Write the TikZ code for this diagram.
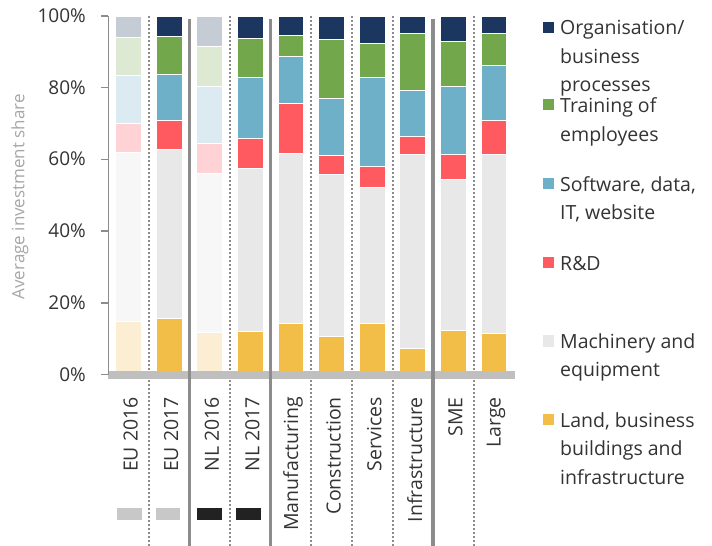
\documentclass[tikz,border=0pt]{standalone}
\usepackage{fontspec}
\setmainfont{Open Sans}
\definecolor{orgN}{HTML}{1B365F}
\definecolor{trN}{HTML}{72A84B}
\definecolor{swN}{HTML}{6EB0C8}
\definecolor{rdN}{HTML}{FF5A5F}
\definecolor{machN}{HTML}{E8E8E8}
\definecolor{landN}{HTML}{F2BE48}
\definecolor{orgF}{HTML}{C5CCD6}
\definecolor{trF}{HTML}{DDE9D3}
\definecolor{swF}{HTML}{DCEAF2}
\definecolor{rdF}{HTML}{FFD3D5}
\definecolor{machF}{HTML}{F7F7F7}
\definecolor{landF}{HTML}{FCEED3}
\definecolor{txt}{HTML}{333333}
\definecolor{axisgray}{HTML}{8C8C8C}
\definecolor{basegray}{HTML}{BFBFBF}
\definecolor{ylabgray}{HTML}{A6A6A6}
\definecolor{sqgray}{HTML}{C8C8C8}
\definecolor{sqblack}{HTML}{222222}
\newcommand\stackbar[7]{%
  \pgfmathsetmacro\yA{374.5-3.585*#2}%
  \pgfmathsetmacro\yB{374.5-3.585*#3}%
  \pgfmathsetmacro\yC{374.5-3.585*#4}%
  \pgfmathsetmacro\yD{374.5-3.585*#5}%
  \pgfmathsetmacro\yE{374.5-3.585*#6}%
  \path[seg, fill=land#7] (#1,374.5) rectangle (#1+25.8,\yA);
  \path[seg, fill=mach#7] (#1,\yA) rectangle (#1+25.8,\yB);
  \path[seg, fill=rd#7] (#1,\yB) rectangle (#1+25.8,\yC);
  \path[seg, fill=sw#7] (#1,\yC) rectangle (#1+25.8,\yD);
  \path[seg, fill=tr#7] (#1,\yD) rectangle (#1+25.8,\yE);
  \path[seg, fill=org#7] (#1,\yE) rectangle (#1+25.8,16);
}
\tikzset{
  seg/.style={draw=white, line width=1pt},
  xlab/.style={rotate=90, anchor=east, inner sep=0pt, text=txt, font=\fontsize{19.5}{22}\selectfont},
  ticklab/.style={anchor=base east, inner sep=0pt, text=txt, font=\fontsize{19}{22}\selectfont},
  leglab/.style={anchor=base west, inner sep=0pt, text=txt, font=\fontsize{19.5}{22}\selectfont},
  solidsep/.style={draw=axisgray, line width=3.5pt},
  dotsep/.style={draw=axisgray, line width=2pt, dash pattern=on 2pt off 2pt},
}
\begin{document}
\begin{tikzpicture}[x=1pt, y=-1pt]
\useasboundingbox (0,0) rectangle (712,546);
% bars
\stackbar{115.7}{14.7}{62.0}{70.0}{83.4}{94.1}{F}
\stackbar{156.3}{15.6}{62.8}{70.8}{83.8}{94.3}{N}
\stackbar{196.9}{11.8}{56.2}{64.3}{80.3}{91.5}{F}
\stackbar{237.5}{12.0}{57.6}{65.7}{82.9}{93.7}{N}
\stackbar{278.1}{14.3}{61.7}{75.5}{88.7}{94.6}{N}
\stackbar{318.7}{10.5}{55.8}{61.1}{77.0}{93.5}{N}
\stackbar{359.3}{14.3}{52.1}{58.1}{82.9}{92.2}{N}
\stackbar{399.9}{7.3}{61.3}{66.5}{79.3}{95.2}{N}
\stackbar{440.5}{12.2}{54.5}{61.4}{80.3}{92.8}{N}
\stackbar{481.1}{11.5}{61.5}{70.8}{86.2}{95.2}{N}
% dotted separators
\foreach \sx in {148.9,230.1,311.3,351.9,392.5,473.7}
  \draw[dotsep] (\sx,16) -- (\sx,546);
% base bar
\fill[basegray] (108,371) rectangle (515,379);
% solid separators
\foreach \sx in {189.5,270.7,433.1}
  \draw[solidsep] (\sx,18.7) -- (\sx,546);
% y axis
\draw[axisgray, line width=1.5pt] (108.3,16) -- (108.3,375);
\foreach \p/\lab in {0/0\%,20/20\%,40/40\%,60/60\%,80/80\%,100/100\%}{
  \draw[axisgray, line width=1.5pt] (100.7,374.5-3.585*\p) -- (108.3,374.5-3.585*\p);
  \node[ticklab] (tick\p) at (86,374.5-3.585*\p+6.5) {\lab};
}
\node[rotate=90, text=ylabgray, font=\fontsize{17}{20}\selectfont] (ylab) at (20,196.7) {Average investment share};
% x labels
\node[xlab] (xl1) at (130.6,397) {EU 2016};
\node[xlab] (xl2) at (171.2,397) {EU 2017};
\node[xlab] (xl3) at (211.8,397) {NL 2016};
\node[xlab] (xl4) at (252.4,397) {NL 2017};
\node[xlab] (xl5) at (293.0,397) {Manufacturing};
\node[xlab] (xl6) at (333.6,397) {Construction};
\node[xlab] (xl7) at (374.2,397) {Services};
\node[xlab] (xl8) at (414.8,397) {Infrastructure};
\node[xlab] (xl9) at (455.4,397) {SME};
\node[xlab] (xl10) at (496.0,397) {Large};
% bottom squares
\fill[sqgray] (117.3,508.3) rectangle (142.3,520);
\fill[sqgray] (155.7,508.3) rectangle (180.3,520);
\fill[sqblack] (197.3,508.3) rectangle (222.3,520);
\fill[sqblack] (236.0,508.3) rectangle (260.7,520);
% legend
\fill[orgN] (543,21.6) rectangle (554.3,32.9);
\fill[trN] (543,98.9) rectangle (554.3,110.2);
\fill[swN] (543,177.9) rectangle (554.3,189.2);
\fill[rdN] (543,256.6) rectangle (554.3,267.9);
\fill[machN] (543,335.4) rectangle (554.3,346.7);
\fill[landN] (543,414.1) rectangle (554.3,425.4);
\node[leglab] (l1a) at (560,34.5) {Organisation/};
\node[leglab] (l1b) at (560,63) {business};
\node[leglab] (l1c) at (560,91.5) {processes};
\node[leglab] (l2a) at (560,112.5) {Training of};
\node[leglab] (l2b) at (560,141) {employees};
\node[leglab] (l3a) at (560,191.3) {Software, data,};
\node[leglab] (l3b) at (560,219.8) {IT, website};
\node[leglab] (l4a) at (560,270) {R\&D};
\node[leglab] (l5a) at (560,348.3) {Machinery and};
\node[leglab] (l5b) at (560,376.8) {equipment};
\node[leglab] (l6a) at (560,427.2) {Land, business};
\node[leglab] (l6b) at (560,455.7) {buildings and};
\node[leglab] (l6c) at (560,484.2) {infrastructure};
\end{tikzpicture}
\end{document}
